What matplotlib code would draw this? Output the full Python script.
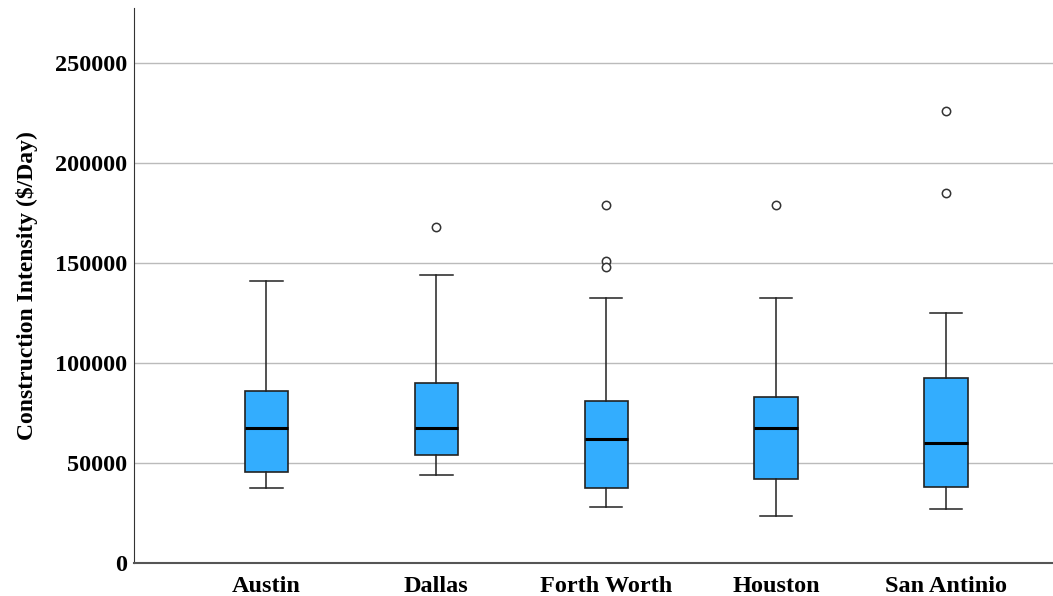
import matplotlib.pyplot as plt

cities = ["Austin", "Dallas", "Forth Worth", "Houston", "San Antinio"]
whisker_low = [37500, 44000, 28000, 23500, 27000]
q1 = [45500, 54000, 37500, 42000, 38000]
medians = [67500, 67500, 62000, 67500, 60000]
q3 = [86000, 90000, 81000, 83000, 92500]
whisker_high = [141000, 144000, 132500, 132500, 125000]
outliers = [[], [168000], [179000, 151000, 148000], [179000], [226000, 185000]]

plt.rcParams['font.family'] = ['Liberation Serif', 'DejaVu Serif']
plt.rcParams['font.weight'] = 'bold'

fig = plt.figure(figsize=(10.53, 5.96), dpi=100)
ax = fig.add_axes([134 / 1053, 1 - 563 / 596, (1053 - 134) / 1053, (563 - 8) / 596])

stats = []
for i in range(len(cities)):
    stats.append({'label': cities[i], 'whislo': whisker_low[i], 'q1': q1[i], 'med': medians[i],
                  'q3': q3[i], 'whishi': whisker_high[i], 'fliers': outliers[i]})

ax.bxp(stats, positions=range(1, 6), widths=0.255, patch_artist=True,
       boxprops=dict(facecolor='#33adfe', edgecolor='#222222', linewidth=1.2),
       medianprops=dict(color='black', linewidth=2.2),
       whiskerprops=dict(color='#222222', linewidth=1.1),
       capprops=dict(color='#222222', linewidth=1.1),
       capwidths=0.19,
       flierprops=dict(marker='o', markerfacecolor='white', markeredgecolor='#333333',
                       markersize=6, markeredgewidth=1.1))

ax.set_xlim(0.22, 5.63)
ax.set_ylim(0, 277500)
ax.set_yticks([0, 50000, 100000, 150000, 200000, 250000])
ax.set_yticklabels(['0', '50000', '100000', '150000', '200000', '250000'], fontsize=17.5, fontweight='bold')
ax.set_xticklabels(cities, fontsize=17.5, fontweight='bold')
ax.set_ylabel('Construction Intensity ($/Day)', fontsize=17, fontweight='bold', labelpad=12)

ax.yaxis.grid(True, color='#bbbbbb', linewidth=1.0)
ax.set_axisbelow(True)
ax.tick_params(axis='y', length=0, pad=5)
ax.tick_params(axis='x', length=0, pad=9)
ax.spines['top'].set_visible(False)
ax.spines['right'].set_visible(False)
ax.spines['left'].set_color('#333333')
ax.spines['bottom'].set_color('#555555')
ax.spines['bottom'].set_linewidth(1.5)

fig.savefig('out.png', dpi=100)
